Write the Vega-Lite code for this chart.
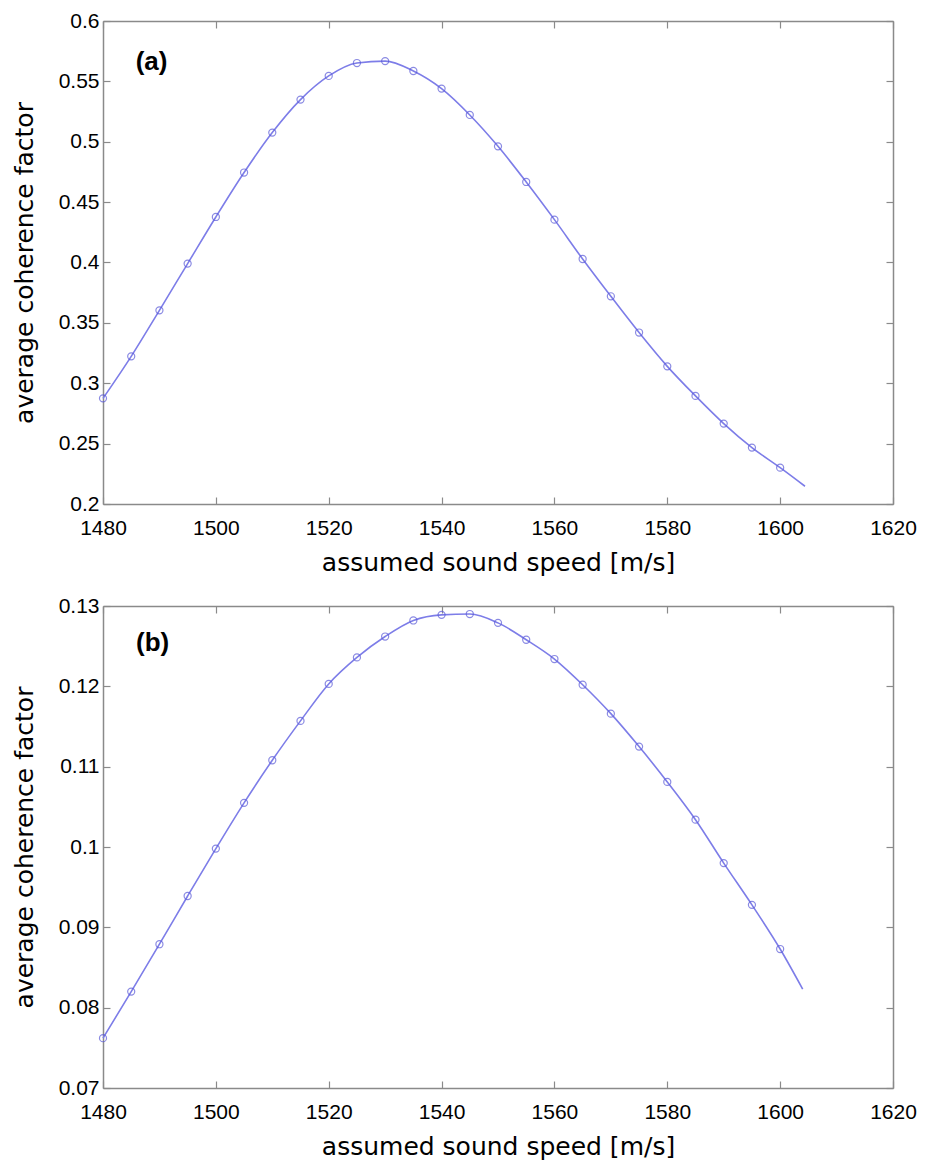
{
  "$schema": "https://vega.github.io/schema/vega-lite/v6.json",
  "background": "white",
  "padding": {"left": 12, "top": 10, "right": 10, "bottom": 5},
  "spacing": 20,
  "datasets": {
    "a": [
      {"speed": 1480, "cf": 0.2875, "marker": true},
      {"speed": 1485, "cf": 0.3223, "marker": true},
      {"speed": 1490, "cf": 0.3604, "marker": true},
      {"speed": 1495, "cf": 0.3991, "marker": true},
      {"speed": 1500, "cf": 0.4377, "marker": true},
      {"speed": 1505, "cf": 0.4745, "marker": true},
      {"speed": 1510, "cf": 0.5076, "marker": true},
      {"speed": 1515, "cf": 0.5349, "marker": true},
      {"speed": 1520, "cf": 0.5545, "marker": true},
      {"speed": 1525, "cf": 0.5652, "marker": true},
      {"speed": 1530, "cf": 0.5668, "marker": true},
      {"speed": 1535, "cf": 0.5586, "marker": true},
      {"speed": 1540, "cf": 0.5440, "marker": true},
      {"speed": 1545, "cf": 0.5222, "marker": true},
      {"speed": 1550, "cf": 0.4962, "marker": true},
      {"speed": 1555, "cf": 0.4667, "marker": true},
      {"speed": 1560, "cf": 0.4355, "marker": true},
      {"speed": 1565, "cf": 0.4029, "marker": true},
      {"speed": 1570, "cf": 0.3720, "marker": true},
      {"speed": 1575, "cf": 0.3420, "marker": true},
      {"speed": 1580, "cf": 0.3140, "marker": true},
      {"speed": 1585, "cf": 0.2895, "marker": true},
      {"speed": 1590, "cf": 0.2666, "marker": true},
      {"speed": 1595, "cf": 0.2467, "marker": true},
      {"speed": 1600, "cf": 0.2301, "marker": true},
      {"speed": 1604.4, "cf": 0.2147, "marker": false}
    ],
    "b": [
      {"speed": 1480, "cf": 0.0762, "marker": true},
      {"speed": 1485, "cf": 0.0820, "marker": true},
      {"speed": 1490, "cf": 0.0879, "marker": true},
      {"speed": 1495, "cf": 0.0939, "marker": true},
      {"speed": 1500, "cf": 0.0998, "marker": true},
      {"speed": 1505, "cf": 0.1055, "marker": true},
      {"speed": 1510, "cf": 0.1108, "marker": true},
      {"speed": 1515, "cf": 0.1157, "marker": true},
      {"speed": 1520, "cf": 0.1203, "marker": true},
      {"speed": 1525, "cf": 0.1236, "marker": true},
      {"speed": 1530, "cf": 0.1262, "marker": true},
      {"speed": 1535, "cf": 0.1282, "marker": true},
      {"speed": 1540, "cf": 0.1289, "marker": true},
      {"speed": 1545, "cf": 0.1290, "marker": true},
      {"speed": 1550, "cf": 0.1279, "marker": true},
      {"speed": 1555, "cf": 0.1258, "marker": true},
      {"speed": 1560, "cf": 0.1234, "marker": true},
      {"speed": 1565, "cf": 0.1202, "marker": true},
      {"speed": 1570, "cf": 0.1166, "marker": true},
      {"speed": 1575, "cf": 0.1125, "marker": true},
      {"speed": 1580, "cf": 0.1081, "marker": true},
      {"speed": 1585, "cf": 0.1034, "marker": true},
      {"speed": 1590, "cf": 0.0980, "marker": true},
      {"speed": 1595, "cf": 0.0928, "marker": true},
      {"speed": 1600, "cf": 0.0873, "marker": true},
      {"speed": 1604, "cf": 0.0823, "marker": false}
    ],
    "la": [{"speed": 1488.6, "cf": 0.5658, "label": "(a)"}],
    "lb": [{"speed": 1488.8, "cf": 0.12545, "label": "(b)"}]
  },
  "vconcat": [
    {
      "width": 790,
      "height": 483,
      "layer": [
        {
          "data": {"name": "a"},
          "mark": {"type": "line", "color": "#7d7de8", "strokeWidth": 1.6, "interpolate": "monotone"},
          "encoding": {
            "x": {"field": "speed", "type": "quantitative", "scale": {"domain": [1480, 1620], "nice": false, "zero": false},
                  "axis": {"orient": "bottom", "values": [1480, 1500, 1520, 1540, 1560, 1580, 1600, 1620], "format": "d", "title": "assumed sound speed [m/s]", "labelFlush": false, "labelPadding": 20, "titlePadding": 12}},
            "y": {"field": "cf", "type": "quantitative", "scale": {"domain": [0.2, 0.6], "nice": false, "zero": false},
                  "axis": {"orient": "left", "values": [0.2, 0.25, 0.3, 0.35, 0.4, 0.45, 0.5, 0.55, 0.6], "format": "~g", "title": "average coherence factor", "labelPadding": 11, "titlePadding": 21}}
          }
        },
        {
          "data": {"name": "a"},
          "transform": [{"filter": "datum.marker"}],
          "mark": {"type": "point", "shape": "circle", "filled": false, "color": "#5a5ad8", "size": 50, "strokeWidth": 1.2},
          "encoding": {
            "x": {"field": "speed", "type": "quantitative", "axis": {"orient": "top", "values": [1480, 1500, 1520, 1540, 1560, 1580, 1600, 1620], "labels": false, "title": null}},
            "y": {"field": "cf", "type": "quantitative", "axis": {"orient": "right", "values": [0.2, 0.25, 0.3, 0.35, 0.4, 0.45, 0.5, 0.55, 0.6], "labels": false, "title": null}}
          }
        },
        {
          "data": {"name": "la"},
          "mark": {"type": "text", "font": "Liberation Sans", "fontWeight": "bold", "fontSize": 26, "color": "#000"},
          "encoding": {
            "x": {"field": "speed", "type": "quantitative", "axis": null},
            "y": {"field": "cf", "type": "quantitative", "axis": null},
            "text": {"field": "label"}
          }
        }
      ],
      "resolve": {"axis": {"x": "independent", "y": "independent"}}
    },
    {
      "width": 790,
      "height": 482,
      "layer": [
        {
          "data": {"name": "b"},
          "mark": {"type": "line", "color": "#7d7de8", "strokeWidth": 1.6, "interpolate": "monotone"},
          "encoding": {
            "x": {"field": "speed", "type": "quantitative", "scale": {"domain": [1480, 1620], "nice": false, "zero": false},
                  "axis": {"orient": "bottom", "values": [1480, 1500, 1520, 1540, 1560, 1580, 1600, 1620], "format": "d", "title": "assumed sound speed [m/s]", "labelFlush": false, "labelPadding": 20, "titlePadding": 12}},
            "y": {"field": "cf", "type": "quantitative", "scale": {"domain": [0.07, 0.13], "nice": false, "zero": false},
                  "axis": {"orient": "left", "values": [0.07, 0.08, 0.09, 0.1, 0.11, 0.12, 0.13], "format": "~g", "title": "average coherence factor", "labelPadding": 11, "titlePadding": 21}}
          }
        },
        {
          "data": {"name": "b"},
          "transform": [{"filter": "datum.marker"}],
          "mark": {"type": "point", "shape": "circle", "filled": false, "color": "#5a5ad8", "size": 50, "strokeWidth": 1.2},
          "encoding": {
            "x": {"field": "speed", "type": "quantitative", "axis": {"orient": "top", "values": [1480, 1500, 1520, 1540, 1560, 1580, 1600, 1620], "labels": false, "title": null}},
            "y": {"field": "cf", "type": "quantitative", "axis": {"orient": "right", "values": [0.07, 0.08, 0.09, 0.1, 0.11, 0.12, 0.13], "labels": false, "title": null}}
          }
        },
        {
          "data": {"name": "lb"},
          "mark": {"type": "text", "font": "Liberation Sans", "fontWeight": "bold", "fontSize": 26, "color": "#000"},
          "encoding": {
            "x": {"field": "speed", "type": "quantitative", "axis": null},
            "y": {"field": "cf", "type": "quantitative", "axis": null},
            "text": {"field": "label"}
          }
        }
      ],
      "resolve": {"axis": {"x": "independent", "y": "independent"}}
    }
  ],
  "config": {
    "view": {"stroke": null},
    "axis": {
      "grid": false,
      "domainColor": "#8a8a8a",
      "domainWidth": 1.5,
      "tickColor": "#8a8a8a",
      "tickWidth": 1.2,
      "tickSize": -7,
      "labelFont": "Liberation Sans",
      "labelFontSize": 21,
      "labelColor": "#000",
      "labelOverlap": false,
      "titleFont": "DejaVu Sans",
      "titleFontSize": 25,
      "titleFontWeight": "normal",
      "titleColor": "#000"
    }
  }
}
